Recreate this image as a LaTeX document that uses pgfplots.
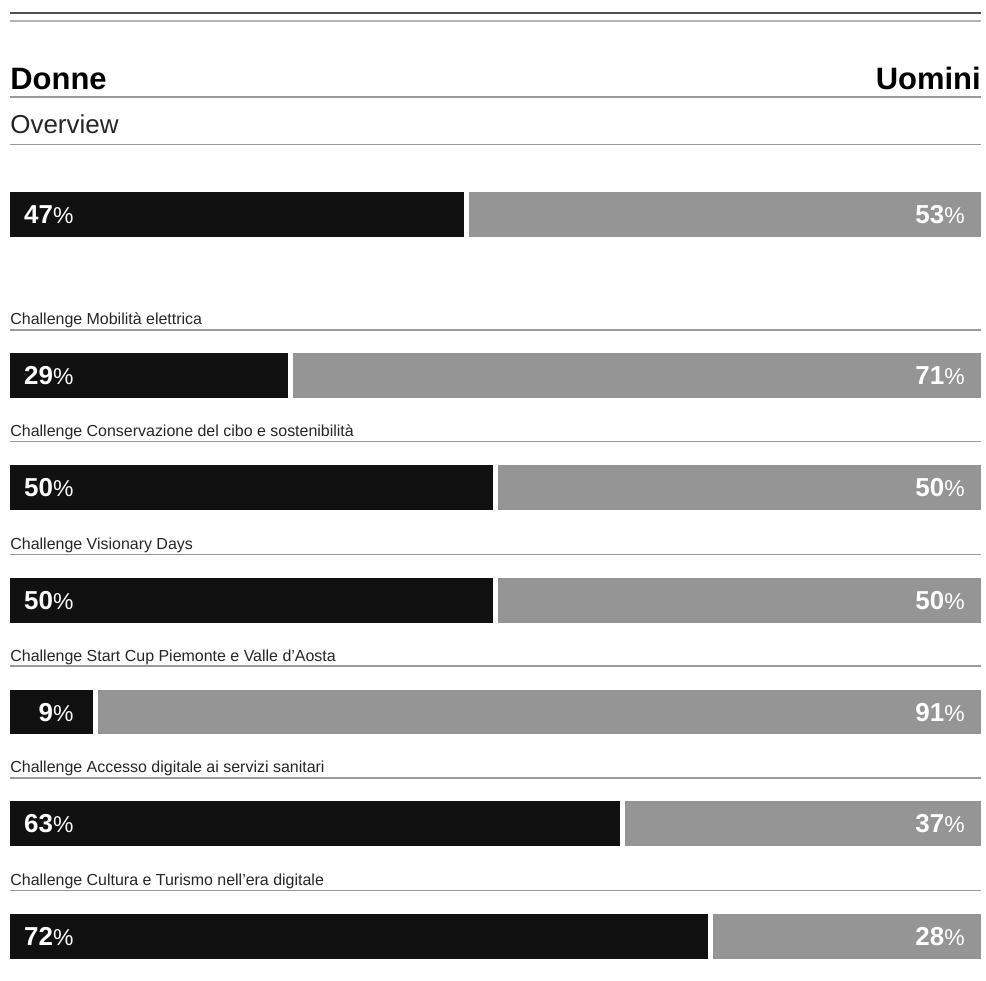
\documentclass[border=0pt]{standalone}
\usepackage{fontspec}
\setmainfont{Liberation Sans}
\usepackage{pgfplots}
\usepackage{pgfplotstable}
\pgfplotsset{compat=1.18}
\definecolor{barblack}{HTML}{111111}
\definecolor{bargray}{HTML}{959595}
\definecolor{rule1}{HTML}{505050}
\definecolor{rule2}{HTML}{B4B4B4}
\definecolor{rule3}{HTML}{9A9A9A}
\pgfplotstableread{
y donne uomini
214.5 47 53
376.5 29 71
488.5 50 50
601.5 50 50
713.5 9 91
825.5 63 37
938.5 72 28
}\datatab
\newcommand{\pct}[1]{{\fontsize{13pt}{15pt}\selectfont\textbf{#1}}{\fontsize{11.5pt}{15pt}\selectfont\%}}
\begin{document}
\begin{tikzpicture}
\begin{axis}[
  scale only axis, width=493pt, height=491.5pt,
  xmin=-0.7669, xmax=100.05, ymin=0, ymax=983,
  y dir=reverse, hide axis, clip=false,
  xbar stacked, bar width=25pt, reverse stacked plots=false,
  set layers,
]
\path (rel axis cs:0,0) rectangle (rel axis cs:1,1);
\addplot[xbar stacked, fill=barblack, draw=white, line width=2.5pt] table[x=donne, y=y]{\datatab};
\addplot[xbar stacked, fill=bargray, draw=white, line width=2.5pt] table[x=uomini, y=y]{\datatab};
% top rules
\draw[rule1, line width=0.8pt] (axis cs:0.2556,13) -- (axis cs:99.744,13);
\draw[rule2, line width=0.8pt] (axis cs:0.2556,21) -- (axis cs:99.744,21);
% headers
\node[anchor=base west, inner sep=0pt, font=\fontsize{15.5pt}{18pt}\selectfont\bfseries] at (axis cs:0.2556,90) {Donne};
\node[anchor=base east, inner sep=0pt, font=\fontsize{15.5pt}{18pt}\selectfont\bfseries] at (axis cs:99.744,90) {Uomini};
\draw[rule3, line width=0.6pt] (axis cs:0.2556,97.3) -- (axis cs:99.744,97.3);
\node[anchor=base west, inner sep=0pt, font=\fontsize{13pt}{15pt}\selectfont, text=black!85] at (axis cs:0.2556,134) {Overview};
\draw[rule3, line width=0.6pt] (axis cs:0.2556,144.5) -- (axis cs:99.744,144.5);
% category labels
\foreach \yy/\lab in {330.5/{Challenge Mobilità elettrica},442.5/{Challenge Conservazione del cibo e sostenibilità},555.5/{Challenge Visionary Days},667.5/{Challenge Start Cup Piemonte e Valle d'Aosta},779.5/{Challenge Accesso digitale ai servizi sanitari},892.5/{Challenge Cultura e Turismo nell'era digitale}}{
  \edef\temp{\noexpand\node[anchor=base west, inner sep=0pt, font=\noexpand\fontsize{8pt}{10pt}\noexpand\selectfont, text=black!85] at (axis cs:0.2556,\yy-5) {\unexpanded\expandafter{\lab}};
  \noexpand\draw[rule3, line width=0.7pt] (axis cs:0.2556,\yy) -- (axis cs:99.744,\yy);}
  \temp
}
% value labels
\begin{pgfonlayer}{axis foreground}
\foreach \yy/\vd/\vu in {214.5/47/53,376.5/29/71,488.5/50/50,601.5/50/50,713.5/9/91,825.5/63/37,938.5/72/28}{
  \edef\temp{\noexpand\node[anchor=base east, inner sep=0pt, text=white] at (axis cs:6.80,\yy+9) {\noexpand\pct{\vd}};
  \noexpand\node[anchor=base east, inner sep=0pt, text=white] at (axis cs:98.11,\yy+9) {\noexpand\pct{\vu}};}
  \temp
}
\end{pgfonlayer}
\end{axis}
\end{tikzpicture}
\end{document}
